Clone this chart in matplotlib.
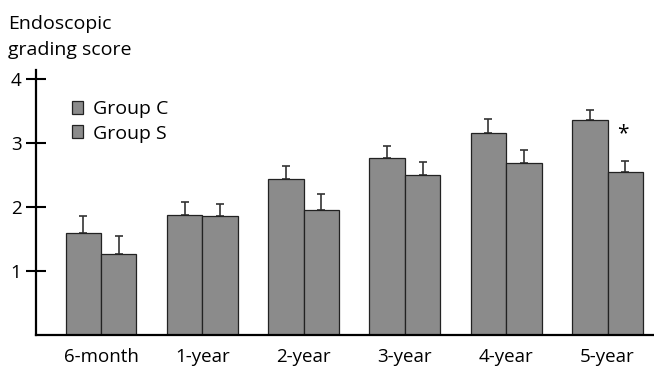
import matplotlib
matplotlib.use("Agg")
import matplotlib.pyplot as plt
import numpy as np

plt.rcParams['font.family'] = ['Open Sans', 'DejaVu Sans']

categories = ["6-month", "1-year", "2-year", "3-year", "4-year", "5-year"]
group_c = [1.60, 1.87, 2.43, 2.76, 3.16, 3.36]
group_c_err = [0.26, 0.21, 0.21, 0.20, 0.22, 0.15]
group_s = [1.26, 1.855, 1.96, 2.50, 2.68, 2.55]
group_s_err = [0.28, 0.19, 0.24, 0.21, 0.21, 0.17]
series_names = ["Group C", "Group S"]
yticks = [1, 2, 3, 4]

fig = plt.figure(figsize=(6.54, 3.72), dpi=100)
ax = fig.add_axes([36/654, 1-335/372, (654-36)/654, (335-70)/372])

x = np.arange(len(categories))
w = 0.35
color = "#8b8b8b"
ax.bar(x - w/2, group_c, w, color=color, edgecolor="#222222", linewidth=0.9, label=series_names[0], zorder=2)
ax.bar(x + w/2, group_s, w, color=color, edgecolor="#222222", linewidth=0.9, label=series_names[1], zorder=2)
ax.errorbar(x - w/2, group_c, yerr=[np.zeros(len(x)), group_c_err], fmt='none', ecolor="#333333",
            elinewidth=1.2, capsize=3, capthick=1.2, zorder=1)
ax.errorbar(x + w/2, group_s, yerr=[np.zeros(len(x)), group_s_err], fmt='none', ecolor="#333333",
            elinewidth=1.2, capsize=3, capthick=1.2, zorder=1)

ax.text(5 + 0.15, 3.15, "*", ha='center', va='center', fontsize=15)

ax.set_xlim(-0.642, 5.459)
ax.set_ylim(0, 4.14)
ax.set_xticks(x)
ax.set_xticklabels(categories, fontsize=13.5)
ax.set_yticks(yticks)
ax.set_yticklabels([str(t) for t in yticks], fontsize=13.5)
ax.tick_params(axis='x', length=0, pad=9)
ax.tick_params(axis='y', direction='inout', length=15, width=1.5, pad=3)
for s in ['top', 'right']:
    ax.spines[s].set_visible(False)
ax.spines['left'].set_linewidth(1.6)
ax.spines['bottom'].set_linewidth(1.6)

ax.legend(loc='upper left', bbox_to_anchor=(0.045, 0.915), frameon=False, fontsize=14,
          handlelength=0.6, handleheight=0.6, handletextpad=0.5, labelspacing=0.32, borderaxespad=0)

fig.text(8/654, 1-29/372, "Endoscopic", ha='left', va='baseline', fontsize=14)
fig.text(8/654, 1-55/372, "grading score", ha='left', va='baseline', fontsize=14)

fig.savefig("out.png", dpi=100)
